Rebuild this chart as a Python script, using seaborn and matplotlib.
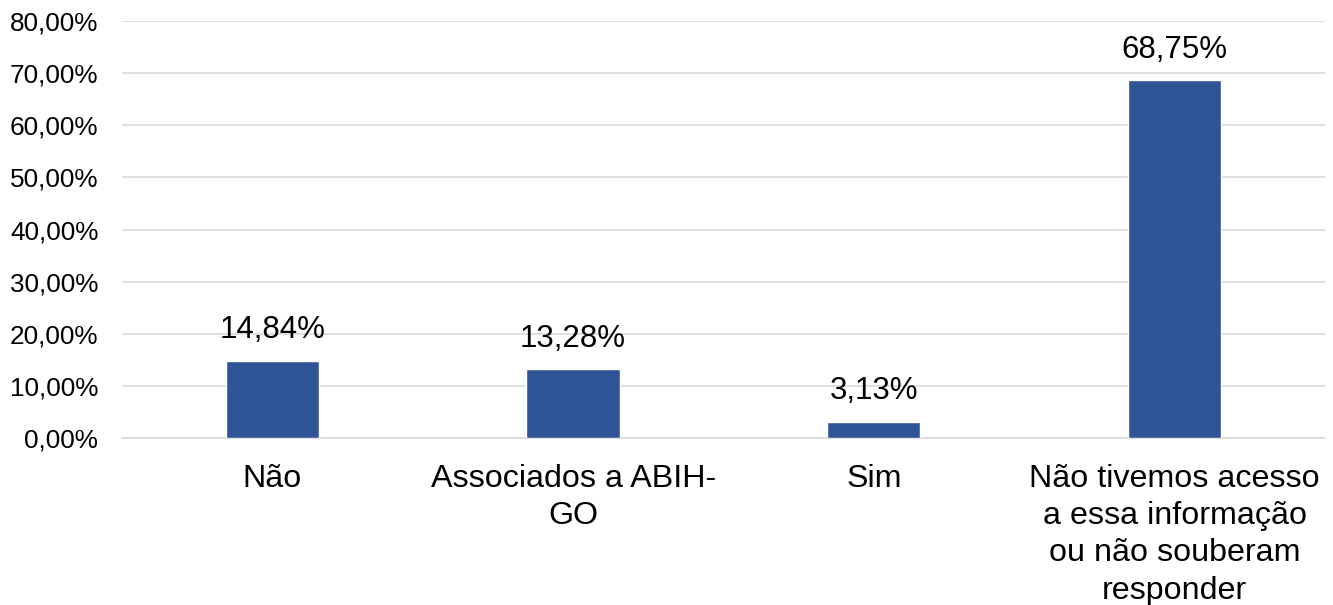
import matplotlib
matplotlib.use("Agg")
import matplotlib.pyplot as plt
import seaborn as sns
import pandas as pd
from matplotlib.ticker import FuncFormatter

categories = ["Não", "Associados a ABIH-\nGO", "Sim",
              "Não tivemos acesso\na essa informação\nou não souberam\nresponder"]
values = [14.84, 13.28, 3.13, 68.75]
y_ticks = [0, 10, 20, 30, 40, 50, 60, 70, 80]

sns.set_theme(style="white")
plt.rcParams['font.family'] = ['Liberation Sans', 'DejaVu Sans']

df = pd.DataFrame({"cat": categories, "val": values})

fig = plt.figure(figsize=(13.33, 6.05), dpi=100)
ax = fig.add_axes([0.0915, 0.276, 0.9025, 0.689])

sns.barplot(data=df, x="cat", y="val", color="#2F5597", width=0.31,
            saturation=1, ax=ax, zorder=3)

ax.set_ylim(0, 80)
ax.set_yticks(y_ticks)
ax.yaxis.set_major_formatter(FuncFormatter(lambda v, p: f"{v:.2f}%".replace(".", ",")))
ax.grid(axis="y", color="#D9D9D9", linewidth=1.2, zorder=0)
ax.set_axisbelow(True)
for s in ["top", "right", "left"]:
    ax.spines[s].set_visible(False)
ax.spines["bottom"].set_color("#D9D9D9")
ax.spines["bottom"].set_linewidth(1.2)
ax.set_xlabel("")
ax.set_ylabel("")
ax.tick_params(axis="y", labelsize=18.8, length=0, pad=17, colors="black")
ax.tick_params(axis="x", labelsize=23.2, length=0, pad=18.5, colors="black")
for lab in ax.get_xticklabels():
    lab.set_linespacing(1.32)

for i, v in enumerate(values):
    ax.annotate(f"{v:.2f}%".replace(".", ","), (i, v), xytext=(0, 11),
                textcoords="offset points", ha="center", va="bottom",
                fontsize=22.5, color="black")

fig.savefig("out.png", dpi=100)
